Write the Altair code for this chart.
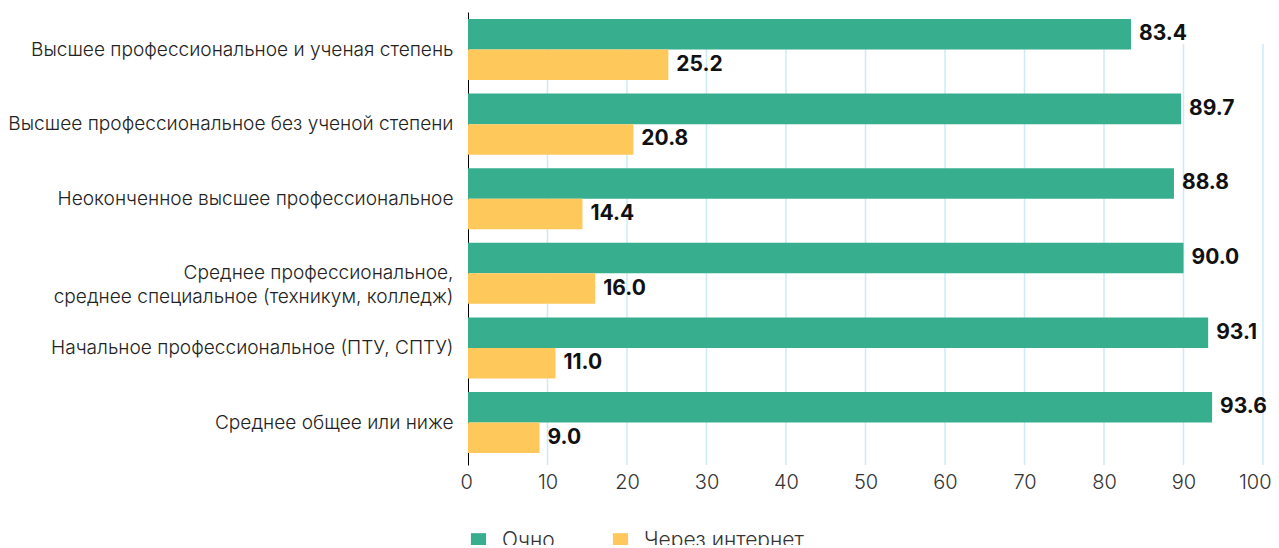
import altair as alt
import pandas as pd

categories = [
    "Высшее профессиональное и ученая степень",
    "Высшее профессиональное без ученой степени",
    "Неоконченное высшее профессиональное",
    "Среднее профессиональное,|среднее специальное (техникум, колледж)",
    "Начальное профессиональное (ПТУ, СПТУ)",
    "Среднее общее или ниже",
]
series = ["Очно", "Через интернет"]
ochno = [83.4, 89.7, 88.8, 90.0, 93.1, 93.6]
internet = [25.2, 20.8, 14.4, 16.0, 11.0, 9.0]
x_ticks = [0, 10, 20, 30, 40, 50, 60, 70, 80, 90, 100]
grid_ticks = x_ticks[1:]
colors = ["#37AF8F", "#FEC85A"]

rows = []
for c, a, b in zip(categories, ochno, internet):
    rows.append({"cat": c, "series": series[0], "value": a})
    rows.append({"cat": c, "series": series[1], "value": b})
df = pd.DataFrame(rows)
grid_df = pd.DataFrame({"t": grid_ticks})

W, H = 795, 453
LABEL_FONT = "Inter"
LIGHT = 300

xscale = alt.Scale(domain=[0, 100], nice=False)
yscale = alt.Scale(domain=categories, paddingInner=0.182, paddingOuter=0.127, align=0.37)
xaxis = alt.Axis(
    title=None,
    values=x_ticks,
    grid=False,
    domain=False,
    ticks=False,
    labelFlush=True,
    labelFlushOffset=8,
    labelPadding=7,
    labelFontSize=20,
    labelFont=LABEL_FONT,
    labelFontWeight=LIGHT,
    labelColor="#333333",
)

grid = alt.Chart(grid_df).mark_rule(color="#CFEAF6", strokeWidth=1.5).encode(
    x=alt.X("t:Q", scale=xscale, axis=xaxis),
    y=alt.value(32),
    y2=alt.value(H),
)

base = alt.Chart(df).encode(
    y=alt.Y(
        "cat:N",
        sort=categories,
        scale=yscale,
        axis=alt.Axis(
            title=None,
            ticks=False,
            domain=True,
            domainColor="#000000",
            domainWidth=1,
            labelPadding=15,
            labelFontSize=19.1,
            labelFont=LABEL_FONT,
            labelFontWeight=LIGHT,
            labelColor="#222222",
            labelLimit=0,
            labelLineHeight=24,
            labelExpr="split(datum.label, '|')",
        ),
    ),
    yOffset=alt.YOffset("series:N", sort=series, scale=alt.Scale(paddingInner=0, paddingOuter=0)),
)

bars = base.mark_bar().encode(
    x=alt.X("value:Q", scale=xscale, axis=xaxis),
    color=alt.Color(
        "series:N",
        sort=series,
        scale=alt.Scale(domain=series, range=colors),
        legend=alt.Legend(
            title=None,
            orient="none",
            legendX=0,
            legendY=518,
            direction="horizontal",
            symbolType="square",
            symbolSize=230,
            symbolStrokeWidth=0,
            labelFontSize=21,
            labelFont=LABEL_FONT,
            labelFontWeight=LIGHT,
            labelColor="#333333",
            labelOffset=13,
            columnPadding=55,
        ),
    ),
)

labels = base.mark_text(
    align="left", baseline="middle", dx=8, fontSize=21, fontWeight="bold",
    font="Inter", color="#111111",
).encode(
    x=alt.X("value:Q", scale=xscale),
    text=alt.Text("value:Q", format=".1f"),
)

chart = alt.layer(grid, bars, labels).properties(
    width=W, height=H,
    autosize=alt.AutoSizeParams(type="none"),
    padding={"left": 460, "top": 4, "right": 8, "bottom": 80},
).configure_view(stroke=None)

chart.save("out.html", embed_options={"renderer": "svg", "actions": False})
